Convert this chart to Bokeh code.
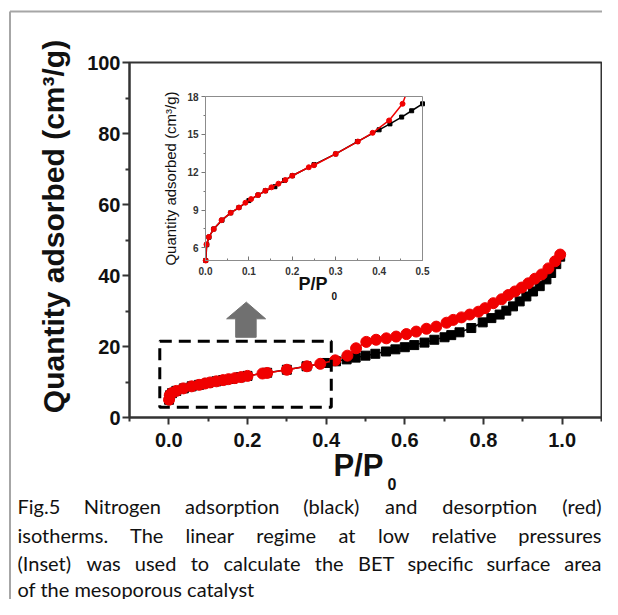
import math
from bokeh.plotting import figure
from bokeh.models import BoxAnnotation, FixedTicker, LinearAxis, Range1d
from bokeh.core.properties import value
from bokeh.embed import file_html
from bokeh.resources import INLINE

# ---------------- data ----------------
ADS_P = [0.0005, 0.003, 0.008, 0.019, 0.038, 0.058, 0.077, 0.100, 0.121, 0.138, 0.160, 0.182,
         0.200, 0.250, 0.300, 0.350, 0.400, 0.425, 0.452, 0.475, 0.500, 0.525, 0.552, 0.576,
         0.600, 0.624, 0.650, 0.675, 0.701, 0.718, 0.739, 0.769, 0.798, 0.820, 0.841, 0.858,
         0.875, 0.892, 0.909, 0.926, 0.943, 0.960, 0.972, 0.985, 0.995]
ADS_Q = [5.0, 6.25, 6.85, 7.5, 8.2, 8.78, 9.2, 9.75, 10.19, 10.53, 10.85, 11.35,
         11.72, 12.6, 13.45, 14.43, 15.36, 15.83, 16.37, 16.87, 17.42, 17.95, 18.6, 19.2,
         19.8, 20.4, 21.1, 21.9, 22.6, 23.2, 24.0, 25.2, 26.8, 28.0, 29.0, 30.1,
         31.3, 32.7, 34.1, 35.5, 37.0, 38.9, 40.7, 43.2, 45.3]

DES_P = [0.995, 0.982, 0.965, 0.948, 0.931, 0.914, 0.897, 0.880, 0.863, 0.846, 0.825, 0.804,
         0.787, 0.765, 0.744, 0.723, 0.706, 0.680, 0.655, 0.629, 0.604, 0.578, 0.553, 0.527,
         0.502, 0.476, 0.454, 0.423, 0.385, 0.351, 0.300, 0.250, 0.238, 0.200, 0.184, 0.168,
         0.152, 0.138, 0.121, 0.105, 0.092, 0.077, 0.058, 0.037, 0.019, 0.0077, 0.0023, 0.0005]
DES_Q = [45.9, 44.0, 42.0, 40.3, 39.1, 37.8, 36.6, 35.5, 34.5, 33.3, 32.2, 30.8,
         29.8, 29.0, 28.2, 27.5, 26.7, 25.6, 25.0, 24.2, 23.5, 22.8, 22.3, 21.9,
         21.3, 19.5, 17.42, 16.1, 15.12, 14.43, 13.45, 12.55, 12.39, 11.72, 11.38, 11.09,
         10.8, 10.53, 10.19, 9.87, 9.58, 9.2, 8.78, 8.2, 7.49, 6.87, 6.27, 5.0]

X_TICKS = [0.0, 0.2, 0.4, 0.6, 0.8, 1.0]
X_TICK_LABELS = ["0.0", "0.2", "0.4", "0.6", "0.8", "1.0"]
X_MINOR = [-0.1, 0.1, 0.3, 0.5, 0.7, 0.9, 1.1]
Y_TICKS = [0, 20, 40, 60, 80, 100]
Y_TICK_LABELS = ["0", "20", "40", "60", "80", "100"]
Y_MINOR = [10, 30, 50, 70, 90]

IN_X_TICKS = [0.0, 0.1, 0.2, 0.3, 0.4, 0.5]
IN_X_TICK_LABELS = ["0.0", "0.1", "0.2", "0.3", "0.4", "0.5"]
IN_X_MINOR = [0.05, 0.15, 0.25, 0.35, 0.45]
IN_Y_TICKS = [6, 9, 12, 15, 18]
IN_Y_TICK_LABELS = ["6", "9", "12", "15", "18"]
IN_Y_MINOR = [7.5, 10.5, 13.5, 16.5]

Y_TITLE = "Quantity adsorbed (cm³/g)"
X_TITLE = ("P/P", "0")

CAPTION = [
    "Fig.5 Nitrogen adsorption (black) and desorption (red)",
    "isotherms. The linear regime at low relative pressures",
    "(Inset) was used to calculate the BET specific surface area",
    "of the mesoporous catalyst",
]

# marked region (dashed box) and pointer arrow, in data units of the main plot
ZOOM_BOX = dict(left=-0.023, right=0.413, bottom=2.9, top=21.5)
ARROW_X = [0.170, 0.222, 0.222, 0.246, 0.197, 0.147, 0.170]
ARROW_Y = [22.6, 22.6, 27.8, 27.8, 32.5, 27.8, 27.8]

# ---------------- layout (canvas pixels) ----------------
CV_W, CV_H = 602, 599
MX, MY = (-0.1, 1.1), (0.0, 100.0)                 # main plot ranges
M_LEFT, M_RIGHT, M_TOP, M_BOTTOM = 129, 601, 62, 417
IX, IY = (0.0, 0.5), (5.0, 18.0)                   # inset ranges
I_LEFT, I_RIGHT, I_TOP, I_BOTTOM = 205, 422, 96, 260

CAP_LEFT, CAP_RIGHT = 17, 601
CAP_Y = [505, 534, 562, 588]
CAP_FONT_PX = 20

BOLD_FONT = "Liberation Sans"
CAP_FONT = "Lato"
RED = "#f00000"
INK = "#111111"

# rough advance widths (em) of the caption font, used only to spread words for justification
CHAR_EM = {
    "a": .50, "b": .56, "c": .46, "d": .56, "e": .52, "f": .32, "g": .50, "h": .56, "i": .24,
    "j": .24, "k": .50, "l": .24, "m": .84, "n": .56, "o": .56, "p": .56, "q": .56, "r": .36,
    "s": .42, "t": .35, "u": .56, "v": .50, "w": .76, "x": .49, "y": .50, "z": .45,
    "B": .62, "E": .55, "F": .53, "I": .27, "N": .74, "T": .57, "(": .30, ")": .30, ".": .23,
    "5": .58,
}


def word_px(w):
    return sum(CHAR_EM.get(c, .55) for c in w) * CAP_FONT_PX * 1.0


def range_from_px(v0, p0, v1, p1, lo_px, hi_px):
    k = (v1 - v0) / (p1 - p0)
    return Range1d(start=v0 + (lo_px - p0) * k, end=v0 + (hi_px - p0) * k)


def clip_polyline(xs, ys, x0, x1, y0, y1):
    """Clip a polyline to a rectangle (Liang-Barsky), returns list of pieces."""
    pieces, cur = [], []
    for i in range(len(xs) - 1):
        ax, ay, bx, by = xs[i], ys[i], xs[i + 1], ys[i + 1]
        dx, dy = bx - ax, by - ay
        t0, t1, ok = 0.0, 1.0, True
        for pp, qq in ((-dx, ax - x0), (dx, x1 - ax), (-dy, ay - y0), (dy, y1 - ay)):
            if pp == 0:
                if qq < 0:
                    ok = False
                    break
            else:
                r = qq / pp
                if pp < 0:
                    t0 = max(t0, r)
                else:
                    t1 = min(t1, r)
        if not ok or t0 > t1:
            if cur:
                pieces.append(cur)
                cur = []
            continue
        sx, sy = ax + t0 * dx, ay + t0 * dy
        ex, ey = ax + t1 * dx, ay + t1 * dy
        if not cur:
            cur = [(sx, sy)]
        cur.append((ex, ey))
        if t1 < 1.0:
            pieces.append(cur)
            cur = []
    if cur:
        pieces.append(cur)
    return [[c[0] for c in pc] for pc in pieces], [[c[1] for c in pc] for pc in pieces]


# ---------------- one canvas, pixel base ranges (y grows downward) ----------------
p = figure(width=CV_W, height=CV_H, output_backend="svg", toolbar_location=None,
           x_range=Range1d(0, CV_W), y_range=Range1d(CV_H, 0),
           x_axis_type=None, y_axis_type=None,
           min_border_left=0, min_border_right=0, min_border_top=0, min_border_bottom=0)
p.grid.visible = False
p.outline_line_color = None
p.background_fill_color = "white"
p.border_fill_color = "white"

p.extra_x_ranges["mx"] = range_from_px(MX[0], M_LEFT, MX[1], M_RIGHT, 0, CV_W)
p.extra_y_ranges["my"] = range_from_px(MY[0], M_BOTTOM, MY[1], M_TOP, CV_H, 0)
p.extra_x_ranges["ix"] = range_from_px(IX[0], I_LEFT, IX[1], I_RIGHT, 0, CV_W)
p.extra_y_ranges["iy"] = range_from_px(IY[0], I_BOTTOM, IY[1], I_TOP, CV_H, 0)

# page border
p.line([9.5, 9.5], [CV_H, 11], line_color="#a6a6a6", line_width=2)
p.line([9.5, CV_W], [11, 11], line_color="#a6a6a6", line_width=2)


def style_axis(ax, font_px, color, tick_color, line_color, line_w):
    ax.axis_line_color = line_color
    ax.axis_line_width = line_w
    ax.major_tick_line_color = tick_color
    ax.minor_tick_line_color = tick_color
    ax.major_tick_line_width = line_w
    ax.minor_tick_line_width = line_w
    ax.major_label_text_font = BOLD_FONT
    ax.major_label_text_font_style = "bold"
    ax.major_label_text_font_size = font_px
    ax.major_label_text_color = color


# ---------------- main plot ----------------
mxa = LinearAxis(x_range_name="mx", y_range_name="my", fixed_location=MY[0], bounds=MX,
                 ticker=FixedTicker(ticks=X_TICKS, minor_ticks=X_MINOR),
                 major_label_overrides=dict(zip(X_TICKS, X_TICK_LABELS)))
mya = LinearAxis(x_range_name="mx", y_range_name="my", fixed_location=MX[0], bounds=MY,
                 ticker=FixedTicker(ticks=Y_TICKS, minor_ticks=Y_MINOR),
                 major_label_overrides=dict(zip(Y_TICKS, Y_TICK_LABELS)))
for ax in (mxa, mya):
    style_axis(ax, "20px", INK, "#333333", "#333333", 2)
    ax.major_tick_in, ax.major_tick_out = 0, 7
    ax.minor_tick_in, ax.minor_tick_out = 0, 4
mxa.major_label_standoff = 8
mya.major_label_standoff = 2
p.add_layout(mxa, "below")
p.add_layout(mya, "left")

p.add_layout(BoxAnnotation(left=MX[0], right=MX[1], bottom=MY[0], top=MY[1],
                           x_range_name="mx", y_range_name="my",
                           fill_color=None, fill_alpha=0, line_color="#333333",
                           line_alpha=1, line_width=2))

p.line(ADS_P, ADS_Q, x_range_name="mx", y_range_name="my", line_color="black", line_width=1.5)
p.scatter(ADS_P, ADS_Q, x_range_name="mx", y_range_name="my", marker="square", size=9,
          fill_color="black", line_color="black")
p.line(DES_P, DES_Q, x_range_name="mx", y_range_name="my", line_color=RED, line_width=1.5)
p.scatter(DES_P, DES_Q, x_range_name="mx", y_range_name="my", marker="circle", size=11,
          fill_color=RED, line_color=RED)

p.add_layout(BoxAnnotation(**ZOOM_BOX, x_range_name="mx", y_range_name="my",
                           fill_color=None, fill_alpha=0, line_color="black", line_alpha=1,
                           line_width=3, line_dash="12 7"))
p.patch(ARROW_X, ARROW_Y, x_range_name="mx", y_range_name="my",
        fill_color="#707070", line_color="#707070")

p.text(x=[53], y=[226], text=[Y_TITLE], angle=math.pi / 2, text_align="center",
       text_baseline="middle", text_font=value(BOLD_FONT), text_font_style="bold",
       text_font_size="30px", text_color=INK)
p.text(x=[333], y=[465], text=[X_TITLE[0]], text_align="left", text_baseline="middle",
       text_font=value(BOLD_FONT), text_font_style="bold", text_font_size="31px",
       text_color=INK)
p.text(x=[387], y=[483], text=[X_TITLE[1]], text_align="left", text_baseline="middle",
       text_font=value(BOLD_FONT), text_font_style="bold", text_font_size="16px",
       text_color=INK)

# ---------------- inset ----------------
p.add_layout(BoxAnnotation(left=IX[0], right=IX[1], bottom=IY[0], top=IY[1],
                           x_range_name="ix", y_range_name="iy",
                           fill_color=None, fill_alpha=0, line_color="#8c8c8c",
                           line_alpha=1, line_width=1))
ixa = LinearAxis(x_range_name="ix", y_range_name="iy", fixed_location=IY[0], bounds=IX,
                 ticker=FixedTicker(ticks=IN_X_TICKS, minor_ticks=IN_X_MINOR),
                 major_label_overrides=dict(zip(IN_X_TICKS, IN_X_TICK_LABELS)))
iya = LinearAxis(x_range_name="ix", y_range_name="iy", fixed_location=IX[0], bounds=IY,
                 ticker=FixedTicker(ticks=IN_Y_TICKS, minor_ticks=IN_Y_MINOR),
                 major_label_overrides=dict(zip(IN_Y_TICKS, IN_Y_TICK_LABELS)))
for ax in (ixa, iya):
    style_axis(ax, "10px", "#333333", "#777777", "#8c8c8c", 1)
ixa.major_tick_in, ixa.major_tick_out = 4, 0
ixa.minor_tick_in, ixa.minor_tick_out = 2, 0
ixa.major_label_standoff = 6
iya.major_tick_in, iya.major_tick_out = 0, 4
iya.minor_tick_in, iya.minor_tick_out = 0, 2
iya.major_label_standoff = 3
p.add_layout(ixa, "below")
p.add_layout(iya, "left")

for xs, ys, col, mk, sz in ((ADS_P, ADS_Q, "black", "square", 4),
                            (DES_P, DES_Q, RED, "circle", 5)):
    cx, cy = clip_polyline(xs, ys, IX[0], IX[1], IY[0], IY[1])
    p.multi_line(cx, cy, x_range_name="ix", y_range_name="iy", line_color=col, line_width=1.5)
    inside = [(a, b) for a, b in zip(xs, ys) if IX[0] <= a <= IX[1] and IY[0] <= b <= IY[1]]
    p.scatter([a for a, _ in inside], [b for _, b in inside], x_range_name="ix",
              y_range_name="iy", marker=mk, size=sz, fill_color=col, line_color=col)

p.text(x=[170], y=[178], text=[Y_TITLE], angle=math.pi / 2, text_align="center",
       text_baseline="middle", text_font=value(BOLD_FONT), text_font_size="15px",
       text_color=INK)
p.text(x=[298], y=[283], text=[X_TITLE[0]], text_align="left", text_baseline="middle",
       text_font=value(BOLD_FONT), text_font_style="bold", text_font_size="18px",
       text_color=INK)
p.text(x=[331], y=[295], text=[X_TITLE[1]], text_align="left", text_baseline="middle",
       text_font=value(BOLD_FONT), text_font_style="bold", text_font_size="10px",
       text_color=INK)

# ---------------- caption (justified; last line left-aligned) ----------------
lw, lx, ly, rw, rx, ry = [], [], [], [], [], []
for i, (line, yy) in enumerate(zip(CAPTION, CAP_Y)):
    if i == len(CAPTION) - 1:
        lw.append(line); lx.append(CAP_LEFT); ly.append(yy)
        continue
    words = line.split(" ")
    widths = [word_px(w) for w in words]
    gap = (CAP_RIGHT - CAP_LEFT - sum(widths)) / (len(words) - 1)
    x = CAP_LEFT
    for k, (w, wpx) in enumerate(zip(words, widths)):
        if k == len(words) - 1:
            rw.append(w); rx.append(CAP_RIGHT); ry.append(yy)
        else:
            lw.append(w); lx.append(x); ly.append(yy)
        x += wpx + gap
p.text(x=lx, y=ly, text=lw, text_align="left", text_baseline="middle",
       text_font=value(CAP_FONT), text_font_size=f"{CAP_FONT_PX}px", text_color=INK)
p.text(x=rx, y=ry, text=rw, text_align="right", text_baseline="middle",
       text_font=value(CAP_FONT), text_font_size=f"{CAP_FONT_PX}px", text_color=INK)

open("out.html", "w").write(file_html(p, INLINE))
